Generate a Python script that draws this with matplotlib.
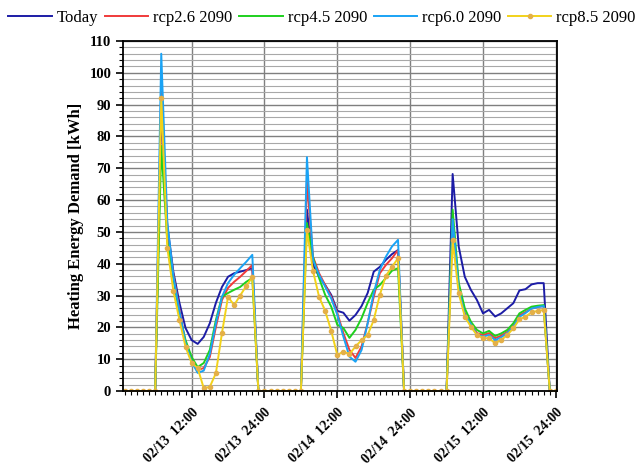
import numpy as np
import matplotlib
matplotlib.use("Agg")
import matplotlib.pyplot as plt
from matplotlib.ticker import MultipleLocator

plt.rcParams['font.family'] = ['Liberation Serif', 'DejaVu Serif']

# hourly values, hour 1 .. 72 (02/13 01:00 .. 02/15 24:00)
hours = np.arange(1, 73)

z6 = [0, 0, 0, 0, 0, 0]
z8 = [0, 0, 0, 0, 0, 0, 0, 0]

today = (z6 +
         [88, 52, 37.4, 27.7, 19.8, 16, 14.8, 17, 21.3, 27.7, 32.7, 35.9, 37, 37.5, 38, 38.6] +
         z8 +
         [57, 39.6, 36, 33.3, 30.2, 25.2, 24.6, 22.1, 23.9, 26.7, 30.8, 37.5, 39, 41.2, 43, 44.3] +
         z8 +
         [68.2, 45.4, 35.9, 31.8, 28.6, 24.4, 25.5, 23.4, 24.4, 26, 27.6, 31.6, 32, 33.5, 33.9, 33.9] +
         [0, 0])

rcp26 = (z6 +
         [94, 50, 36.5, 25.5, 15, 9.8, 6.6, 7.2, 10.7, 20.1, 28.6, 32.4, 34.3, 35.9, 37.7, 39.6] +
         z8 +
         [66, 42.2, 37, 33.3, 29.6, 24.5, 18.2, 12.9, 10.4, 14, 21.3, 29.6, 37, 39.6, 41.7, 44.3] +
         z8 +
         [52, 33, 24.5, 21, 18.2, 17.6, 18.2, 16.6, 17.4, 18.6, 20.6, 23.8, 24.8, 25.9, 26.4, 26.7] +
         [0, 0])

rcp45 = (z6 +
         [77, 47, 35.5, 24, 16, 10.7, 7.5, 8.8, 12.9, 22.3, 29.6, 30.8, 31.8, 32.7, 34.3, 35.5] +
         z8 +
         [52.8, 42, 35.5, 30.2, 26.5, 20.8, 19.8, 16.7, 19.2, 22.9, 27.7, 31.8, 33.3, 35.5, 37.8, 38.6] +
         z8 +
         [57, 34, 26, 21.8, 19.2, 18.1, 18.9, 17.3, 18.1, 19.2, 21.3, 24.4, 25.5, 26.5, 26.8, 27] +
         [0, 0])

rcp60 = (z6 +
         [106, 53, 36, 25, 15, 9.2, 5.7, 6.4, 11.6, 21.3, 29.6, 33.9, 36.5, 38.6, 40.6, 42.8] +
         z8 +
         [73.5, 41.2, 36.5, 32.8, 29.1, 24, 17.1, 10.8, 9.2, 12.9, 21.3, 30.8, 38, 42.2, 45.4, 47.5] +
         z8 +
         [54, 32, 24, 21, 17.6, 17.1, 17.6, 16, 16.9, 18.2, 20.2, 23.3, 24.5, 25.9, 26.4, 26.7] +
         [0, 0])

rcp85 = (z6 +
         [92, 45, 31.4, 22.3, 13.9, 8.8, 7.2, 0.9, 1.3, 5.6, 18.2, 29.6, 27, 30, 33, 35.8] +
         z8 +
         [50.6, 37.7, 29.6, 25.2, 18.9, 11.3, 12.4, 11.6, 14, 16, 17.6, 22.3, 30.2, 36.2, 39, 41.7] +
         z8 +
         [47.3, 30.7, 23.4, 20.2, 17.6, 16.6, 16.6, 15, 16, 17.6, 19.7, 22.5, 23.4, 24.7, 25.2, 25.5] +
         [0, 0])

tick_hours = [12, 24, 36, 48, 60, 72]
tick_labels = ['02/13  12:00', '02/13  24:00', '02/14  12:00',
               '02/14  24:00', '02/15  12:00', '02/15  24:00']

fig = plt.figure(figsize=(6.44, 4.69), dpi=100)
ax = fig.add_axes([0.191, 0.1663, 0.674, 0.7463])

ax.plot(hours, today, color='#1c1ca6', lw=1.4, label='Today')
ax.plot(hours, rcp26, color='#f03a3a', lw=1.4, label='rcp2.6 2090')
ax.plot(hours, rcp45, color='#1ed01e', lw=1.4, label='rcp4.5 2090')
ax.plot(hours, rcp60, color='#1aa3f5', lw=1.4, label='rcp6.0 2090')
ax.plot(hours, rcp85, color='#f2d21a', lw=1.4, marker='o', markersize=3,
        markerfacecolor='#e4b048', markeredgecolor='#e4b048', label='rcp8.5 2090')

ax.set_xlim(0.7, 72.2)
ax.set_ylim(0, 110)
ax.set_xticks(tick_hours)
ax.set_xticklabels(tick_labels, rotation=45, ha='right', rotation_mode='anchor',
                   fontweight='bold', fontsize=10)
ax.xaxis.set_minor_locator(MultipleLocator(1))
ax.yaxis.set_major_locator(MultipleLocator(10))
ax.yaxis.set_minor_locator(MultipleLocator(2))
for lab in ax.get_yticklabels():
    lab.set_fontweight('bold')
    lab.set_fontsize(10.5)

ax.tick_params(axis='both', which='major', direction='out', length=5, width=1.2)
ax.tick_params(axis='both', which='minor', direction='out', length=3, width=0.8)
ax.tick_params(axis='x', which='major', pad=6)

ax.grid(True, which='major', color='#7f7f7f', lw=1.0)
ax.grid(True, which='minor', axis='y', color='#a8a8a8', lw=0.8)
ax.set_axisbelow(True)
for s in ax.spines.values():
    s.set_linewidth(1.3)

ax.set_ylabel('Heating Energy Demand [kWh]', fontsize=12, fontweight='bold')

fig.legend(loc='upper center', bbox_to_anchor=(0.5, 1.0), ncol=5, frameon=False,
           fontsize=12, handlelength=2.6, handletextpad=0.3, columnspacing=0.4,
           borderaxespad=0.2)

fig.savefig('out.png', dpi=100)
